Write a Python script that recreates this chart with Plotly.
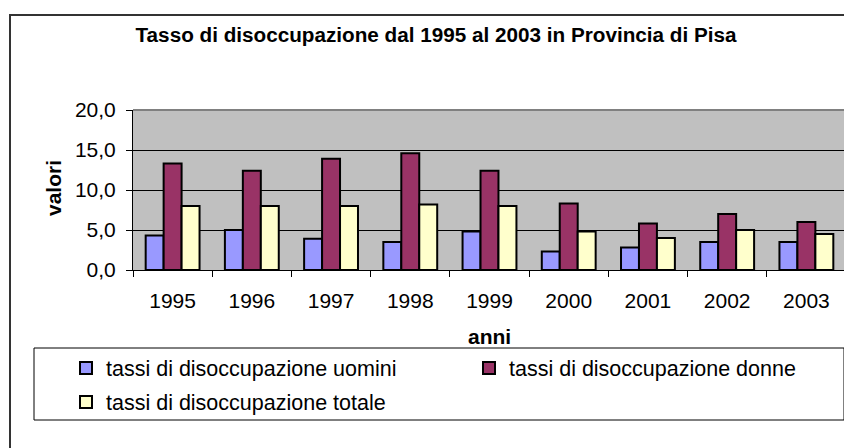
import plotly.graph_objects as go

# dati
anni = ["1995", "1996", "1997", "1998", "1999", "2000", "2001", "2002", "2003"]
uomini = [4.3, 5.0, 3.9, 3.5, 4.8, 2.3, 2.8, 3.5, 3.5]
donne = [13.3, 12.4, 13.9, 14.6, 12.4, 8.3, 5.8, 7.0, 6.0]
totale = [8.0, 8.0, 8.0, 8.2, 8.0, 4.8, 4.0, 5.0, 4.5]

nomi = ["tassi di disoccupazione uomini",
        "tassi di disoccupazione donne",
        "tassi di disoccupazione totale"]
colori = ["#9999ff", "#993366", "#ffffcc"]

W, H = 852, 448
OFF = 8  # margine del body della pagina html
# area del grafico in pixel (coordinate della pagina)
L, R, T, B = 133 - OFF, 846 - OFF, 110 - OFF, 270 - OFF


def px(x):
    # pixel della pagina -> coordinate paper
    return (x - OFF - L) / (R - L)


def py(y):
    return (B - (y - OFF)) / (B - T)


def cx(x):
    return (x - OFF) / W


def cy(y):
    return 1 - (y - OFF) / H


FONT = "Arial, Liberation Sans, sans-serif"

fig = go.Figure()
legende = ["legend", "legend2", "legend3"]
for nome, valori, colore, leg in zip(nomi, [uomini, donne, totale], colori, legende):
    fig.add_trace(go.Bar(
        x=anni, y=valori, name=nome,
        marker=dict(color=colore, line=dict(color="black", width=2)),
        legend=leg, showlegend=True,
    ))

leg_style = dict(font=dict(size=21.5, color="black", family=FONT),
                 bgcolor="rgba(0,0,0,0)", borderwidth=0,
                 xref="container", yref="container",
                 xanchor="left", yanchor="middle", orientation="h")

fig.update_layout(
    width=W, height=H,
    margin=dict(l=L, r=W - R, t=T, b=H - B, pad=0, autoexpand=False),
    paper_bgcolor="white",
    plot_bgcolor="#c0c0c0",
    separators=",.",
    barmode="group",
    bargap=0.32,
    bargroupgap=0,
    showlegend=True,
    font=dict(family=FONT, size=21, color="black"),
    title=dict(text="<b>Tasso di disoccupazione dal 1995 al 2003 in Provincia di Pisa</b>",
               x=cx(436), xanchor="center", y=cy(35), yanchor="middle",
               font=dict(size=20.7, family=FONT, color="black")),
    legend=dict(x=cx(66), y=cy(368), **leg_style),
    legend2=dict(x=cx(469), y=cy(368), **leg_style),
    legend3=dict(x=cx(66), y=cy(402), **leg_style),
    xaxis=dict(
        type="category", showgrid=False,
        showline=True, linecolor="black", linewidth=1,
        ticks="outside", tickson="boundaries", ticklen=6, tickcolor="black",
        ticklabelstandoff=12,
        tickfont=dict(size=21, family=FONT, color="black"),
    ),
    yaxis=dict(
        range=[0, 20], dtick=5, tickformat=".1f",
        showgrid=True, gridcolor="black", gridwidth=1,
        showline=True, linecolor="black", linewidth=1,
        ticks="outside", ticklen=6, tickcolor="black",
        ticklabelstandoff=6,
        zeroline=False,
        tickfont=dict(size=21, family=FONT, color="black"),
    ),
)

# titoli degli assi
fig.add_annotation(text="<b>valori</b>", x=px(53), y=py(188), xref="paper", yref="paper",
                   xanchor="center", yanchor="middle",
                   textangle=-90, showarrow=False,
                   font=dict(size=21, family=FONT, color="black"))
fig.add_annotation(text="<b>anni</b>", x=px(489), y=py(336), xref="paper", yref="paper",
                   xanchor="center", yanchor="middle",
                   showarrow=False, font=dict(size=21, family=FONT, color="black"))

# bordo grigio dell'area del grafico (alto e destra)
fig.add_shape(type="line", xref="paper", yref="paper", x0=0, x1=1, y0=1, y1=1,
              line=dict(color="#808080", width=2))
fig.add_shape(type="line", xref="paper", yref="paper", x0=1, x1=1, y0=0, y1=1,
              line=dict(color="#808080", width=2))

# riquadro della legenda
fig.add_shape(type="rect", xref="paper", yref="paper",
              x0=px(34), x1=px(844), y0=py(348), y1=py(420),
              line=dict(color="black", width=1), fillcolor="rgba(0,0,0,0)")

# cornice esterna del grafico
fig.add_shape(type="rect", xref="paper", yref="paper",
              x0=px(10), x1=px(870), y0=py(15), y1=py(470),
              line=dict(color="#333333", width=2), fillcolor="rgba(0,0,0,0)",
              layer="below")

fig.write_html("out.html")
